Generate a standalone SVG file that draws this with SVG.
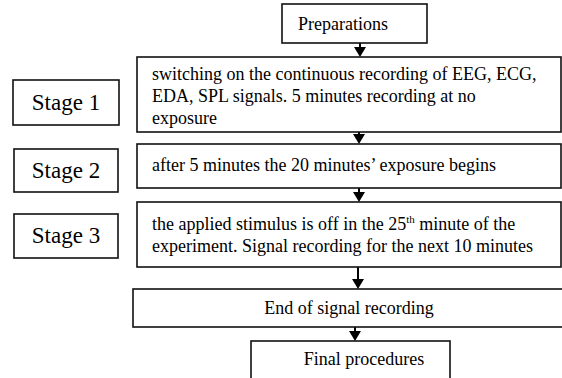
<svg xmlns="http://www.w3.org/2000/svg" width="562" height="378" viewBox="0 0 562 378">
  <defs>
    <style>
      .box { fill: #fff; stroke: #111; stroke-width: 1.6; }
      .conn line { stroke: #000; stroke-width: 2; }
      .conn use { fill: #000; }
    </style>
    <!-- solid downward arrowhead shared by all connectors -->
    <path id="head" d="M-6,0 L6,0 L0,10 Z"/>
  </defs>
  <rect width="562" height="378" fill="#fff"/>

  <!-- flow connectors: short stems with solid triangular heads -->
  <g id="connectors" class="conn">
    <line x1="360" y1="43" x2="360" y2="48"/><use href="#head" x="360" y="47"/>
    <line x1="359" y1="132" x2="359" y2="136"/><use href="#head" x="359" y="134"/>
    <line x1="359" y1="188" x2="359" y2="193"/><use href="#head" x="359" y="192"/>
    <line x1="358" y1="267" x2="358" y2="279"/><use href="#head" x="358" y="279"/>
    <line x1="355" y1="327" x2="355" y2="332"/><use href="#head" x="355" y="331"/>
  </g>

  <g id="preparations">
    <rect class="box" x="282" y="4" width="145" height="39"/>
    <text x="343" y="30" font-family="Times New Roman, Liberation Serif, serif" font-size="18" text-anchor="middle">Preparations</text>
  </g>

  <g id="stage1-label">
    <rect class="box" x="13" y="80" width="106" height="45"/>
    <text x="66" y="110" font-family="Times New Roman, Liberation Serif, serif" font-size="23" text-anchor="middle">Stage 1</text>
  </g>
  <g id="stage1">
    <rect class="box" x="137" y="57" width="424" height="75"/>
    <text x="152" y="80" font-family="Times New Roman, Liberation Serif, serif" font-size="18">switching on the continuous recording of EEG, ECG,</text>
    <text x="152" y="102" font-family="Times New Roman, Liberation Serif, serif" font-size="18">EDA, SPL signals. 5 minutes recording at no</text>
    <text x="152" y="124" font-family="Times New Roman, Liberation Serif, serif" font-size="18">exposure</text>
  </g>

  <g id="stage2-label">
    <rect class="box" x="14" y="149" width="104" height="43"/>
    <text x="66" y="178" font-family="Times New Roman, Liberation Serif, serif" font-size="23" text-anchor="middle">Stage 2</text>
  </g>
  <g id="stage2">
    <rect class="box" x="137" y="144" width="424" height="44"/>
    <text x="152" y="171" font-family="Times New Roman, Liberation Serif, serif" font-size="18">after 5 minutes the 20 minutes’ exposure begins</text>
  </g>

  <g id="stage3-label">
    <rect class="box" x="14" y="214" width="104" height="44"/>
    <text x="66" y="243" font-family="Times New Roman, Liberation Serif, serif" font-size="23" text-anchor="middle">Stage 3</text>
  </g>
  <g id="stage3">
    <rect class="box" x="137" y="202" width="424" height="65"/>
    <text x="152" y="230" font-family="Times New Roman, Liberation Serif, serif" font-size="18">the applied stimulus is off in the 25<tspan font-size="11" dy="-7">th</tspan><tspan dy="7"> minute of the</tspan></text>
    <text x="152" y="252" font-family="Times New Roman, Liberation Serif, serif" font-size="18">experiment. Signal recording for the next 10 minutes</text>
  </g>

  <g id="end-recording">
    <rect class="box" x="133" y="289" width="440" height="38"/>
    <text x="349" y="314" font-family="Times New Roman, Liberation Serif, serif" font-size="18" text-anchor="middle">End of signal recording</text>
  </g>

  <g id="final">
    <rect class="box" x="251" y="341" width="199" height="45"/>
    <text x="364" y="365" font-family="Times New Roman, Liberation Serif, serif" font-size="18" text-anchor="middle">Final procedures</text>
  </g>
</svg>
